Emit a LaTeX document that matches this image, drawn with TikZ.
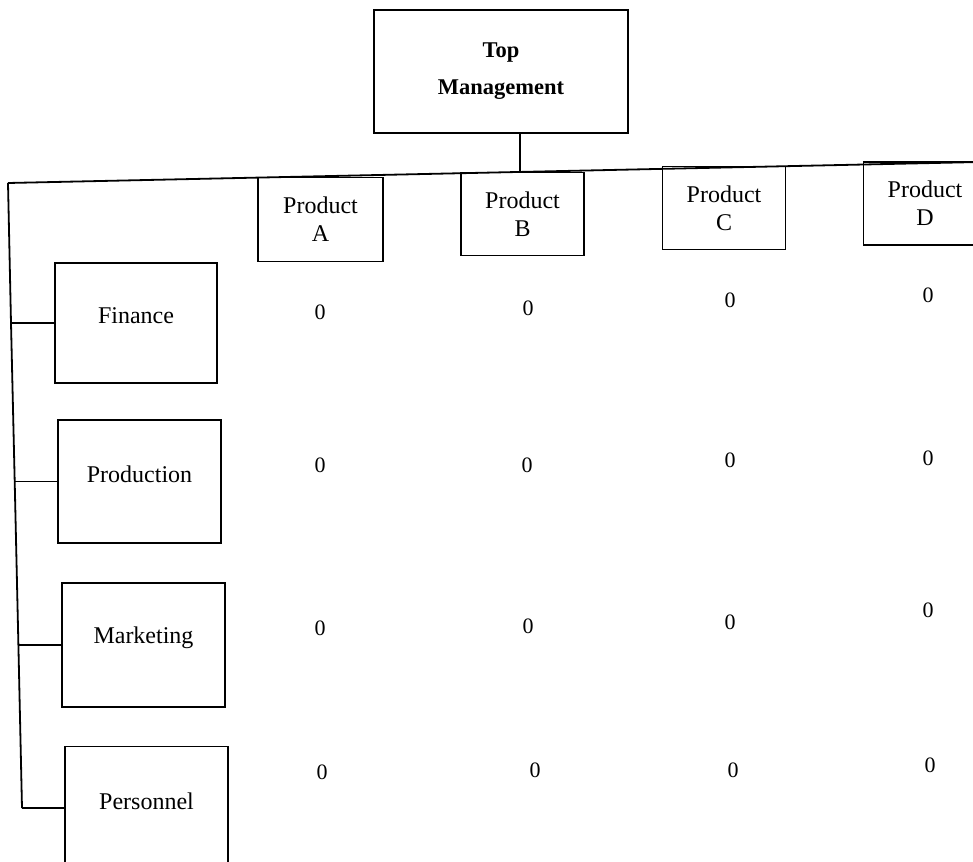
\documentclass[tikz,border=0pt]{standalone}
\usepackage{fontspec}
\setmainfont{Liberation Serif}
\newcommand{\upby}[1]{\raisebox{7pt}[\height][\depth]{#1}}
\begin{document}
\begin{tikzpicture}[x=1pt,y=-1pt,line width=1.8pt,
  box/.style={draw,line width=1.8pt,inner sep=0pt,align=center,font=\fontsize{24}{28}\selectfont},
  topbox/.style={box,font=\bfseries\fontsize{22.5}{37}\selectfont},
  prodbox/.style={box,minimum width=123pt,minimum height=83pt},
  deptbox/.style={box,minimum width=163pt,minimum height=123pt},
  zero/.style={inner sep=0pt,font=\fontsize{22}{26}\selectfont}]
\useasboundingbox (0,0) rectangle (973,861);
\clip (0,0) rectangle (973,861);
% top management
\node[topbox,minimum width=254pt,minimum height=123pt] (top) at (501,71.5) {Top\\Management};
% horizontal bar
\coordinate (bl) at (8,183);
\coordinate (br) at (980,162);
\coordinate (tj) at (520,172);
\draw (bl) -- (br);
\draw (top.south -| tj) -- (tj);
% products
\node[prodbox,minimum width=125pt,minimum height=84pt] (pa) at (320.5,219.5) {Product\\A};
\node[prodbox] (pb) at (522.5,214) {Product\\B};
\node[prodbox] (pc) at (724,208) {Product\\C};
\node[prodbox] (pd) at (925,203.5) {Product\\D};
% departments
\node[deptbox,minimum width=162pt,minimum height=120pt] (fin) at (136,323) {\upby{Finance}};
\node[deptbox] (pro) at (139.5,481.5) {\upby{Production}};
\node[deptbox,minimum height=124pt] (mar) at (143.5,645) {\upby{Marketing}};
\node[deptbox] (per) at (146.5,808) {\upby{Personnel}};
% spine
\coordinate (s1) at (11,323);
\coordinate (s2) at (14.7,481.5);
\coordinate (s3) at (18.4,645);
\coordinate (s4) at (22,808);
\draw (bl) -- (s1) -- (s2) -- (s3) -- (s4);
\draw (s1) -- (fin.west);
\draw (s2) -- (pro.west);
\draw (s3) -- (mar.west);
\draw (s4) -- (per.west);
% zeros
\node[zero] (z11) at (320,312) {0};
\node[zero] (z12) at (528,308) {0};
\node[zero] (z13) at (730,300) {0};
\node[zero] (z14) at (928,295) {0};
\node[zero] (z21) at (320,465) {0};
\node[zero] (z22) at (527,465) {0};
\node[zero] (z23) at (730,460) {0};
\node[zero] (z24) at (928,458) {0};
\node[zero] (z31) at (320,628) {0};
\node[zero] (z32) at (528,626) {0};
\node[zero] (z33) at (730,622) {0};
\node[zero] (z34) at (928,610) {0};
\node[zero] (z41) at (322,772) {0};
\node[zero] (z42) at (535,770) {0};
\node[zero] (z43) at (733,770) {0};
\node[zero] (z44) at (930,765) {0};
\end{tikzpicture}
\end{document}
